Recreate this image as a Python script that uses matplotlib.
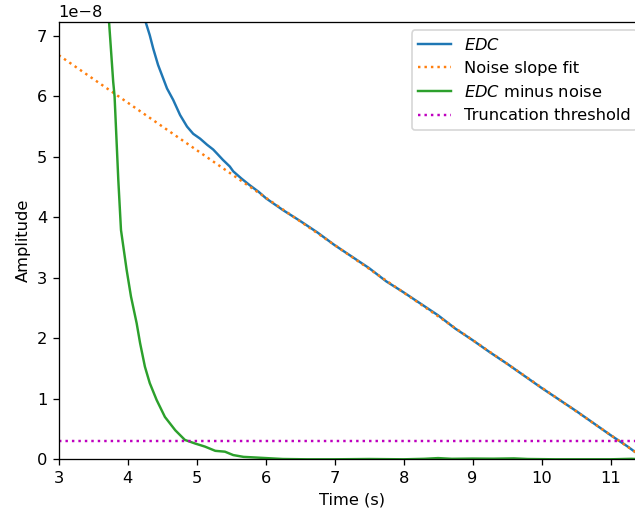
import matplotlib
matplotlib.use("Agg")
import matplotlib.pyplot as plt
import numpy as np

# EDC, amplitude in units of 1e-8
edc_t = [4.20, 4.26, 4.32, 4.37, 4.44, 4.57, 4.66, 4.76, 4.86, 4.95, 5.05, 5.15, 5.24, 5.29, 5.38,
         5.48, 5.53, 5.65, 5.77, 5.90, 6.01, 6.25, 6.50, 6.75, 7.00, 7.25, 7.50, 7.75,
         8.00, 8.25, 8.50, 8.75, 9.00, 9.25, 9.50, 9.75, 10.00, 10.25, 10.50, 10.75,
         11.00, 11.25, 11.35, 11.50]
edc_y = [7.60, 7.23, 7.01, 6.79, 6.52, 6.13, 5.94, 5.69, 5.50, 5.38, 5.30, 5.20, 5.12, 5.06, 4.95,
         4.84, 4.76, 4.64, 4.53, 4.42, 4.31, 4.12, 3.94, 3.75, 3.54, 3.35, 3.16, 2.94,
         2.76, 2.57, 2.38, 2.16, 1.97, 1.77, 1.58, 1.38, 1.18, 0.99, 0.80, 0.60,
         0.40, 0.21, 0.126, 0.01]

# Noise slope fit (linear)
fit_t = [3.0, 11.5]
fit_y = [6.68, 0.01]

# EDC minus noise
mn_t = [3.70, 3.73, 3.79, 3.81, 3.864, 3.903, 3.985, 4.048, 4.13, 4.18, 4.25, 4.32, 4.42,
        4.54, 4.69, 4.83, 4.98, 5.12, 5.27, 5.41, 5.53, 5.68, 5.85, 6.01, 6.25, 6.60,
        7.00, 7.50, 8.00, 8.30, 8.50, 8.70, 9.00, 9.30, 9.60, 9.80, 10.20, 10.60,
        11.00, 11.30, 11.50]
mn_y = [7.60, 7.23, 6.24, 6.00, 4.62, 3.79, 3.13, 2.69, 2.25, 1.92, 1.53, 1.26, 0.98,
        0.70, 0.48, 0.32, 0.26, 0.21, 0.14, 0.126, 0.07, 0.04, 0.03, 0.02, 0.005, 0.0,
        0.0, 0.005, 0.0, 0.008, 0.02, 0.008, 0.012, 0.01, 0.015, 0.005, 0.0, 0.0,
        0.0, 0.008, 0.0]

# Truncation threshold
threshold = 0.31
scale = 1e-8

dpi = 117
fig = plt.figure(figsize=(635 / dpi, 516 / dpi), dpi=dpi)
ax = fig.add_axes([58.7 / 635, 1 - 459.3 / 516, (645 - 58.7) / 635, (459.3 - 22.3) / 516])

ax.plot(edc_t, np.array(edc_y) * scale, color="C0", label=r"$EDC$")
ax.plot(fit_t, np.array(fit_y) * scale, color="C1", linestyle=":", label="Noise slope fit")
ax.plot(mn_t, np.array(mn_y) * scale, color="C2", label=r"$EDC$ minus noise")
ax.axhline(threshold * scale, color="m", linestyle=":", label="Truncation threshold")

ax.set_xlim(3, 11.5)
ax.set_ylim(0, 7.223e-8)
ax.set_xticks([3, 4, 5, 6, 7, 8, 9, 10, 11])
ax.set_xlabel("Time (s)")
ax.set_ylabel("Amplitude")
ax.legend(loc="upper right")

fig.savefig("out.png", dpi=dpi)
